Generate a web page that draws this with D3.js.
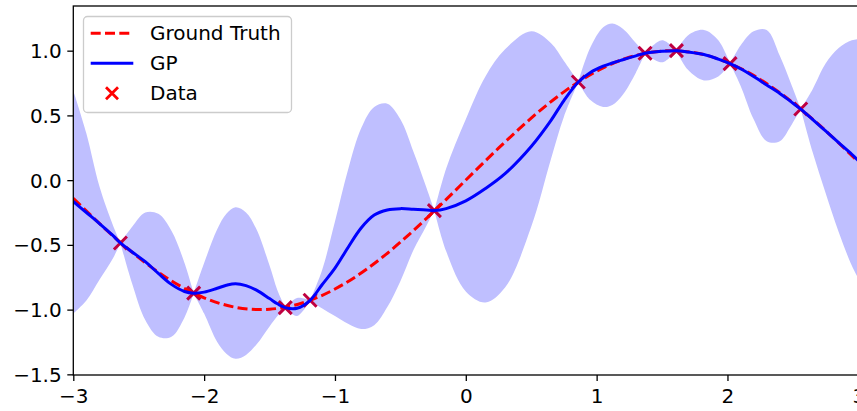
<!DOCTYPE html>
<html>
<head>
<meta charset="utf-8">
<script src="https://cdn.jsdelivr.net/npm/d3@7"></script>
<style>
  body { margin: 0; background: #fff; }
  svg text { font-family: "DejaVu Sans", sans-serif; }
</style>
</head>
<body>
<div id="chart"></div>
<script>
// ground truth curve
const truthX = [-3, -2.75, -2.5, -2.25, -2, -1.75, -1.5, -1.25, -1, -0.75, -0.5, -0.25, 0,
  0.25, 0.5, 0.75, 1, 1.25, 1.5, 1.75, 2, 2.25, 2.5, 2.75, 3];
const truthY = [-0.141, -0.382, -0.598, -0.778, -0.909, -0.984, -0.997, -0.949, -0.841, -0.682, -0.479, -0.247, 0,
  0.247, 0.479, 0.682, 0.841, 0.949, 0.997, 0.984, 0.909, 0.778, 0.598, 0.382, 0.141];

// observations
const dataX = [-2.64, -2.08, -1.38, -1.19, -0.24, 0.86, 1.37, 1.61, 2.02, 2.56];
const dataY = [-0.485, -0.873, -0.985, -0.928, -0.235, 0.758, 0.98, 1.0, 0.90, 0.549];

// GP posterior: mean and band edges
const gpX = [-3.0, -2.9, -2.8, -2.7, -2.64, -2.55, -2.45, -2.35, -2.25, -2.15, -2.08, -2.0, -1.9, -1.83, -1.76, -1.68, -1.6, -1.5,
  -1.44, -1.38, -1.29, -1.19, -1.1, -1.0, -0.9, -0.8, -0.7, -0.6, -0.5, -0.4, -0.3, -0.24, -0.15, 0, 0.15,
  0.3, 0.5, 0.65, 0.75, 0.86, 0.95, 1.05, 1.12, 1.2, 1.3, 1.37, 1.5, 1.61, 1.7, 1.82, 1.93, 2.02, 2.1,
  2.2, 2.3, 2.4, 2.48, 2.56, 2.65, 2.75, 2.85, 2.95, 3.0];
const gpMean = [-0.165, -0.25, -0.335, -0.425, -0.485, -0.555, -0.63, -0.72, -0.805, -0.86, -0.873, -0.865, -0.835, -0.812, -0.80, -0.815, -0.85, -0.915,
  -0.955, -0.985, -0.99, -0.928, -0.81, -0.68, -0.52, -0.37, -0.27, -0.23, -0.22, -0.225, -0.23, -0.235, -0.22, -0.16, -0.065,
  0.05, 0.26, 0.46, 0.615, 0.758, 0.83, 0.88, 0.905, 0.93, 0.96, 0.98, 0.995, 1.0, 0.99, 0.97, 0.935, 0.90, 0.86,
  0.80, 0.735, 0.67, 0.61, 0.549, 0.47, 0.38, 0.29, 0.20, 0.15];
const gpUpper = [0.69, 0.36, -0.05, -0.34, -0.485, -0.36, -0.25, -0.26, -0.39, -0.64, -0.873, -0.64, -0.38, -0.26, -0.21, -0.25, -0.38, -0.66,
  -0.85, -0.985, -0.91, -0.928, -0.70, -0.32, 0.08, 0.40, 0.565, 0.59, 0.47, 0.22, -0.06, -0.235, 0.09, 0.47, 0.80,
  1.01, 1.15, 1.06, 0.92, 0.758, 1.02, 1.18, 1.21, 1.17, 1.06, 0.98, 1.08, 1.0, 1.12, 1.16, 1.08, 0.90, 1.04,
  1.15, 1.16, 0.96, 0.76, 0.549, 0.70, 0.90, 1.02, 1.08, 1.09];
const gpLower = [-1.03, -0.93, -0.77, -0.61, -0.485, -0.80, -1.08, -1.21, -1.21, -1.06, -0.873, -1.03, -1.25, -1.34, -1.38, -1.35, -1.27, -1.13,
  -1.05, -0.985, -1.05, -0.928, -0.99, -1.05, -1.11, -1.15, -1.12, -0.98, -0.78, -0.54, -0.35, -0.235, -0.55, -0.86, -0.945,
  -0.83, -0.36, 0.16, 0.49, 0.758, 0.62, 0.565, 0.58, 0.66, 0.83, 0.98, 0.91, 1.0, 0.85, 0.77, 0.80, 0.90, 0.73,
  0.47, 0.30, 0.30, 0.41, 0.549, 0.22, -0.10, -0.40, -0.66, -0.76];

const xTicks = [-3, -2, -1, 0, 1, 2, 3];
const yTicks = [-1.5, -1.0, -0.5, 0.0, 0.5, 1.0];

const w = 857, h = 411;
const plot = { left: 73.3, right: 858.3, top: 6, bottom: 375 };

const svg = d3.select("#chart").append("svg")
  .attr("width", w)
  .attr("height", h);

const xScale = d3.scaleLinear().domain([-3, 3]).range([plot.left, plot.right]);
const yScale = d3.scaleLinear().domain([-1.505, 1.345]).range([plot.bottom, plot.top]);

svg.append("clipPath").attr("id", "clip")
  .append("rect")
  .attr("x", plot.left).attr("y", plot.top)
  .attr("width", plot.right - plot.left).attr("height", plot.bottom - plot.top);

const g = svg.append("g").attr("clip-path", "url(#clip)");

// band, drawn one piece per gap between observations so the pinches stay sharp
const gp = gpX.map((x, i) => ({ x: x, m: gpMean[i], u: gpUpper[i], l: gpLower[i] }));
const breaks = [-3].concat(dataX, [3]);
const area = d3.area()
  .x(d => xScale(d.x))
  .y0(d => yScale(d.l))
  .y1(d => yScale(d.u))
  .curve(d3.curveCatmullRom.alpha(0.5));

for (let i = 0; i < breaks.length - 1; i++) {
  const seg = gp.filter(d => d.x >= breaks[i] - 1e-9 && d.x <= breaks[i + 1] + 1e-9);
  g.append("path")
    .attr("d", area(seg))
    .attr("fill", "#bfbfff");
}

// observations
g.selectAll(".pt")
  .data(dataX)
  .enter()
  .append("path")
  .attr("class", "pt")
  .attr("transform", (d, i) => "translate(" + xScale(d) + "," + yScale(dataY[i]) + ")")
  .attr("d", "M-6.5,-6.5L6.5,6.5M-6.5,6.5L6.5,-6.5")
  .attr("stroke", "#c00040")
  .attr("stroke-width", 3);

// ground truth
const truthLine = d3.line()
  .x((d, i) => xScale(d))
  .y((d, i) => yScale(truthY[i]))
  .curve(d3.curveNatural);

g.append("path")
  .attr("d", truthLine(truthX))
  .attr("fill", "none")
  .attr("stroke", "#ff0000")
  .attr("stroke-width", 3)
  .attr("stroke-dasharray", "10,4.3");

// GP mean
const meanLine = d3.line()
  .x(d => xScale(d.x))
  .y(d => yScale(d.m))
  .curve(d3.curveCatmullRom.alpha(0.5));

g.append("path")
  .attr("d", meanLine(gp))
  .attr("fill", "none")
  .attr("stroke", "#0000ff")
  .attr("stroke-width", 3);

// axes
const xAxis = d3.axisBottom(xScale)
  .tickValues(xTicks)
  .tickSize(6)
  .tickPadding(8)
  .tickFormat(d3.format("d"));
const yAxis = d3.axisLeft(yScale)
  .tickValues(yTicks)
  .tickSize(6)
  .tickPadding(5.6)
  .tickFormat(d3.format(".1f"));

const gx = svg.append("g")
  .attr("transform", "translate(0," + plot.bottom + ")")
  .call(xAxis);
const gy = svg.append("g")
  .attr("transform", "translate(" + plot.left + ",0)")
  .call(yAxis);

[gx, gy].forEach(ax => {
  ax.select(".domain").remove();
  ax.selectAll("line").attr("stroke", "#000").attr("stroke-width", 1.3);
  ax.selectAll("text").attr("fill", "#000").style("font-size", "20px");
});
gy.selectAll("text").attr("dy", "0.35em");

svg.append("rect")
  .attr("x", plot.left).attr("y", plot.top)
  .attr("width", plot.right - plot.left).attr("height", plot.bottom - plot.top)
  .attr("fill", "none")
  .attr("stroke", "#000")
  .attr("stroke-width", 1.3);

// legend
const legend = svg.append("g");
legend.append("rect")
  .attr("x", 83.5).attr("y", 16.5)
  .attr("width", 208).attr("height", 96)
  .attr("rx", 4)
  .attr("fill", "#fff").attr("fill-opacity", 0.8)
  .attr("stroke", "#cccccc").attr("stroke-width", 1.3);

const rows = [33.3, 63.3, 93.3];
legend.append("line")
  .attr("x1", 90.7).attr("x2", 133.3).attr("y1", rows[0]).attr("y2", rows[0])
  .attr("stroke", "#ff0000").attr("stroke-width", 3).attr("stroke-dasharray", "10,4.3");
legend.append("line")
  .attr("x1", 90.7).attr("x2", 133.3).attr("y1", rows[1]).attr("y2", rows[1])
  .attr("stroke", "#0000ff").attr("stroke-width", 3);
legend.append("path")
  .attr("transform", "translate(112," + rows[2] + ")")
  .attr("d", "M-6,-6L6,6M-6,6L6,-6")
  .attr("stroke", "#ff0000").attr("stroke-width", 2.8);

legend.selectAll(".lbl")
  .data(["Ground Truth", "GP", "Data"])
  .enter()
  .append("text")
  .attr("x", 150)
  .attr("y", (d, i) => rows[i])
  .attr("dy", "0.35em")
  .style("font-size", "20px")
  .attr("fill", "#000")
  .text(d => d);
</script>
</body>
</html>
